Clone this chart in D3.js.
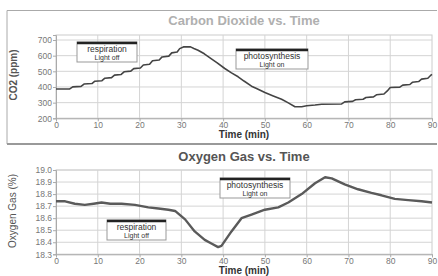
<!DOCTYPE html>
<html>
<head>
<meta charset="utf-8">
<script src="https://cdn.jsdelivr.net/npm/d3@7"></script>
<style>
  body { margin: 0; background: #fff; }
  svg { display: block; font-family: "Liberation Sans", Arial, sans-serif; }
</style>
</head>
<body>
<div id="chart"></div>
<script>
// CO2 readings (min, ppm) - stepped sensor trace
const co2Time = [0, 3.3, 4.0, 6.0, 6.7, 8.6, 9.3, 11.0, 11.7, 13.3, 14.0, 15.6, 16.3, 17.9, 18.6, 20.2, 20.9, 22.4, 23.1, 24.7, 25.4, 27.0, 27.7, 29.0, 29.6, 30.5, 32.2,
  33, 34, 35.5, 37.2, 38.5, 40.4, 42, 43.6, 45, 46.8, 48, 50, 52, 54, 55.5, 57.2,
  58.8, 60, 62, 63.6, 68.3, 69.1, 71, 71.7, 73.5, 74.2, 76, 76.7, 78.5, 79.3, 80, 82.3, 83, 84.7, 85.3, 86.8, 87.5, 89, 89.6, 90];
const co2Ppm = [387, 388, 401, 404, 419, 422, 437, 440, 456, 460, 476, 480, 497, 501, 517, 521, 540, 545, 568, 572, 592, 597, 618, 623, 645, 656, 656,
  646, 635, 612, 580, 556, 518, 490, 465, 438, 405, 390, 365, 343, 322, 300, 274,
  274, 280, 285, 290, 291, 305, 308, 318, 322, 333, 337, 350, 355, 375, 397, 399, 412, 416, 430, 435, 450, 456, 472, 480];

// O2 readings (min, %)
const o2Time = [0, 2.2, 4.5, 6.9, 9, 10.9, 13, 15.7, 18.9, 22.1, 24.5, 26.9, 28.5, 30.9, 33.2, 35.6, 37.2, 38.8, 39.6, 42.0, 44.4, 46.8, 50, 53.2, 55.6, 58.8, 62, 64.4, 66, 69.1, 72.3, 75.5, 77.9, 81.1, 84.3, 87.5, 90];
const o2Pct = [18.74, 18.74, 18.72, 18.71, 18.72, 18.73, 18.72, 18.72, 18.71, 18.69, 18.68, 18.67, 18.66, 18.59, 18.49, 18.42, 18.39, 18.36, 18.37, 18.49, 18.60, 18.63, 18.67, 18.69, 18.73, 18.80, 18.89, 18.94, 18.93, 18.88, 18.84, 18.81, 18.79, 18.76, 18.75, 18.74, 18.73];

const timeTicks = [0, 10, 20, 30, 40, 50, 60, 70, 80, 90];
const co2Ticks = [200, 300, 400, 500, 600, 700];
const o2Ticks = [18.3, 18.4, 18.5, 18.6, 18.7, 18.8, 18.9, 19.0];

const width = 438, height = 276;
const svg = d3.select('#chart').append('svg')
  .attr('width', width)
  .attr('height', height);

// panel frames
svg.append('path')
  .attr('d', 'M7,144 V10.5 H437')
  .attr('fill', 'none').attr('stroke', '#aaa').attr('stroke-width', 1);
svg.append('line')
  .attr('x1', 7).attr('x2', 437).attr('y1', 144).attr('y2', 144)
  .attr('stroke', '#999').attr('stroke-width', 2);

const x = d3.scaleLinear().domain([0, 90]).range([56, 432]);

function panel(cfg) {
  const y = d3.scaleLinear().domain(cfg.domain).range([cfg.bottom, cfg.top]);
  const g = svg.append('g');

  g.append('rect')
    .attr('x', 56).attr('y', cfg.top)
    .attr('width', 376).attr('height', cfg.bottom - cfg.top)
    .attr('fill', '#fff').attr('stroke', '#ccc');

  // grid
  g.append('g').selectAll('line').data(timeTicks.slice(1, -1)).enter().append('line')
    .attr('x1', d => x(d)).attr('x2', d => x(d))
    .attr('y1', cfg.top).attr('y2', cfg.bottom)
    .attr('stroke', '#d4d4d4');
  g.append('g').selectAll('line').data(cfg.ticks).enter().append('line')
    .attr('x1', 56).attr('x2', 432)
    .attr('y1', d => y(d)).attr('y2', d => y(d))
    .attr('stroke', '#d4d4d4');

  const yAxis = g.append('g')
    .attr('transform', 'translate(56,0)')
    .call(d3.axisLeft(y).tickValues(cfg.ticks).tickFormat(cfg.fmt).tickSize(3).tickPadding(1));
  const xAxis = g.append('g')
    .attr('transform', `translate(0,${cfg.bottom})`)
    .call(d3.axisBottom(x).tickValues(timeTicks).tickSize(3).tickPadding(1));
  [yAxis, xAxis].forEach(a => {
    a.select('.domain').attr('stroke', '#aaa');
    a.selectAll('.tick line').attr('stroke', '#aaa');
    a.selectAll('.tick text').attr('fill', '#777').style('font-size', '8.5px');
  });

  const line = d3.line()
    .x((d, i) => x(cfg.time[i]))
    .y(d => y(d));
  g.append('path')
    .datum(cfg.values)
    .attr('d', line)
    .attr('fill', 'none')
    .attr('stroke', cfg.lineColor)
    .attr('stroke-width', cfg.lw)
    .attr('stroke-linejoin', 'round');

  // title
  svg.append('text')
    .attr('x', 244).attr('y', cfg.titleY)
    .attr('text-anchor', 'middle')
    .attr('fill', cfg.titleColor)
    .style('font-size', '13px').style('font-weight', 'bold')
    .text(cfg.title);

  svg.append('text')
    .attr('transform', `translate(${cfg.yLabelX},${cfg.yLabelY}) rotate(-90)`)
    .attr('text-anchor', 'middle')
    .attr('fill', '#555')
    .style('font-size', '10px').style('font-weight', cfg.yLabelWeight)
    .text(cfg.yLabel);

  svg.append('text')
    .attr('x', 244).attr('y', cfg.bottom + 20)
    .attr('text-anchor', 'middle')
    .attr('fill', '#333')
    .style('font-size', '10px').style('font-weight', 'bold')
    .text('Time (min)');

  cfg.notes.forEach(n => {
    const b = g.append('g');
    b.append('rect')
      .attr('x', n.x).attr('y', n.y).attr('width', n.w).attr('height', 20)
      .attr('fill', '#fff').attr('stroke', '#999');
    b.append('line')
      .attr('x1', n.x).attr('x2', n.x + n.w)
      .attr('y1', n.y + 1).attr('y2', n.y + 1)
      .attr('stroke', '#222').attr('stroke-width', 2.5);
    b.append('text')
      .attr('x', n.x + n.w / 2).attr('y', n.y + 10)
      .attr('text-anchor', 'middle').attr('fill', '#333')
      .style('font-size', '8.5px')
      .text(n.line1);
    b.append('text')
      .attr('x', n.x + n.w / 2).attr('y', n.y + 17.5)
      .attr('text-anchor', 'middle').attr('fill', '#333')
      .style('font-size', '7px')
      .text(n.line2);
  });
}

panel({
  domain: [200, 732], top: 35, bottom: 118.3, ticks: co2Ticks, fmt: d3.format('d'),
  time: co2Time, values: co2Ppm, lw: 1.6, lineColor: '#444',
  title: 'Carbon Dioxide vs. Time', titleY: 25, titleColor: '#b0b0b0',
  yLabel: 'CO2 (ppm)', yLabelX: 17, yLabelY: 75, yLabelWeight: 'bold',
  notes: [
    { x: 77, y: 42, w: 60, line1: 'respiration', line2: 'Light off' },
    { x: 236, y: 49, w: 72, line1: 'photosynthesis', line2: 'Light on' }
  ]
});

panel({
  domain: [18.3, 19.0], top: 170, bottom: 254.3, ticks: o2Ticks, fmt: d3.format('.1f'),
  time: o2Time, values: o2Pct, lw: 2.4, lineColor: '#5a5a5a',
  title: 'Oxygen Gas vs. Time', titleY: 161, titleColor: '#555',
  yLabel: 'Oxygen Gas (%)', yLabelX: 16, yLabelY: 211, yLabelWeight: 'normal',
  notes: [
    { x: 107, y: 220, w: 59, line1: 'respiration', line2: 'Light off' },
    { x: 220, y: 178, w: 70, line1: 'photosynthesis', line2: 'Light on' }
  ]
});
</script>
</body>
</html>
